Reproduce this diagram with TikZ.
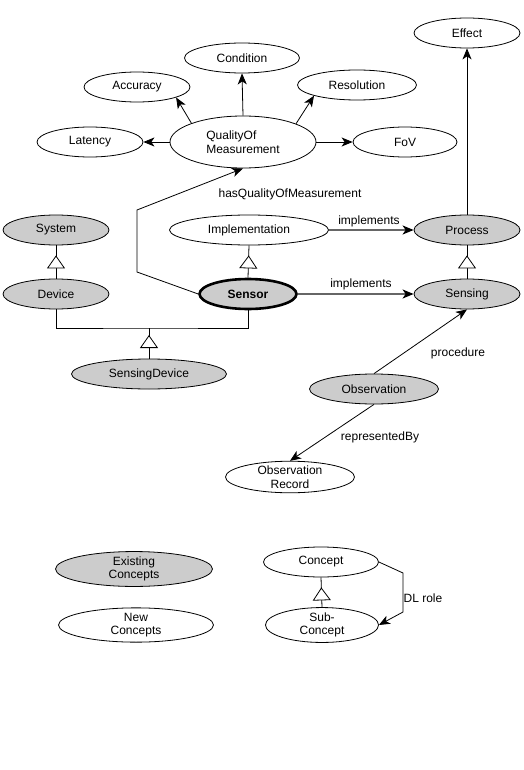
\documentclass[tikz,border=0pt]{standalone}
\usepackage{fontspec}
\setmainfont{Liberation Sans}
\usetikzlibrary{arrows.meta,shapes.geometric,decorations.markings}

\begin{document}
\begin{tikzpicture}[
      x=1pt, y=-1pt,
      concept/.style = {ellipse, draw, line width=0.8pt, inner sep=0pt, minimum height=30pt, align=center, font=\fontsize{12}{13.5}\selectfont},
      known/.style = {concept, fill=gray!40},
      rel/.style = {-{Stealth[length=11pt,width=9pt,inset=3pt,color=black]}, line width=0.8pt},
      implrel/.style = {rel, draw=black!60, line width=1.3pt},
      isa/.style = {line width=0.8pt, postaction=decorate, decoration={markings, mark=at position -#1 with {\arrow{Triangle[length=13pt,width=18pt,fill=white]}}}},
      isa/.default = 10pt,
      lbl/.style = {inner sep=0pt, font=\fontsize{12}{13.5}\selectfont}
    ]
    \useasboundingbox (0,0) rectangle (523,770);

    % quality of measurement
    \node[concept, minimum width=146pt, minimum height=52pt, align=left] (qom) at (243,142) {QualityOf\\Measurement};
    \node[concept, minimum width=106pt] (lat)  at (90,142)  {Latency};
    \node[concept, minimum width=106pt] (acc)  at (137,87)  {Accuracy};
    \node[concept, minimum width=115pt] (cond) at (242,58)  {Condition};
    \node[concept, minimum width=119pt] (res)  at (357,85)  {Resolution};
    \node[concept, minimum width=104pt] (fov)  at (405,142) {FoV};
    \node[concept, minimum width=106pt] (eff)  at (467,33)  {Effect};

    % main row
    \node[known, minimum width=106pt] (sys)  at (56,230)  {System};
    \node[concept, minimum width=159pt] (impl) at (249,230) {Implementation};
    \node[known, minimum width=106pt] (proc) at (467,230) {Process};
    \node[known, minimum width=106pt] (dev)  at (56,294)  {Device};
    \node[known, minimum width=97pt, line width=2.6pt, font=\fontsize{12}{13.5}\selectfont\bfseries] (sensor) at (248,294) {Sensor};
    \node[known, minimum width=106pt] (sensing) at (467,294) {Sensing};
    \node[known, minimum width=155pt] (sdev) at (149,374) {SensingDevice};
    \node[known, minimum width=129pt] (obs)  at (374,389) {Observation};
    \node[concept, minimum width=129pt] (obsrec) at (290,477) {Observation\\Record};

    % legend
    \node[known, minimum width=157pt, minimum height=32pt] (exist) at (134,569) {Existing\\Concepts};
    \node[concept, minimum width=155pt, minimum height=31pt] (new) at (136,625) {New\\Concepts};
    \node[concept, minimum width=115pt] (con) at (321,562) {Concept};
    \node[concept, minimum width=113pt, minimum height=31pt] (subcon) at (322,625) {Sub-\\Concept};

    % labels
    \node[lbl] (lhasq)  at (290,194) {hasQualityOfMeasurement};
    \node[lbl] (limpa)  at (369,221) {implements};
    \node[lbl] (limpb)  at (361,284) {implements};
    \node[lbl] (lproc)  at (458,353) {procedure};
    \node[lbl] (lrepr)  at (380,437) {representedBy};
    \node[lbl] (ldl)    at (423,598) {DL role};

    % relations
    \draw[rel] (qom.west) -- (lat.east);
    \draw[rel] (qom.160) -- (acc.-15);
    \draw[rel] (qom.north) -- (cond.south);
    \draw[rel] (qom.19) -- (res.-166);
    \draw[rel] (qom.east) -- (fov.west);
    \draw[rel] (sensor.west) -- (137,272) -- (137,210) -- (qom.south);
    \draw[rel] (proc.north) -- (eff.south);
    \draw[implrel] (impl.east) -- (proc.west);
    \draw[implrel] (sensor.east) -- (sensing.west);
    \draw[rel] (obs.north) -- (sensing.south);
    \draw[rel] (obs.south) -- (obsrec.north);
    \draw[rel] (con.east) -- (403,573) -- (403,612) -- (subcon.east);

    % subclasses
    \coordinate (sdjoin) at (149,328);
    \draw[line width=0.8pt] (dev.south) |- (sdjoin) -| (sensor.south);
    \draw[isa=7pt] (sdev.north) -- (sdjoin);
    \draw[isa] (dev.north) -- (sys.south);
    \draw[isa] (sensor.north) -- (impl.south);
    \draw[isa] (sensing.north) -- (proc.south);
    \draw[isa] (subcon.north) -- (con.south);
  \end{tikzpicture}
\end{document}
